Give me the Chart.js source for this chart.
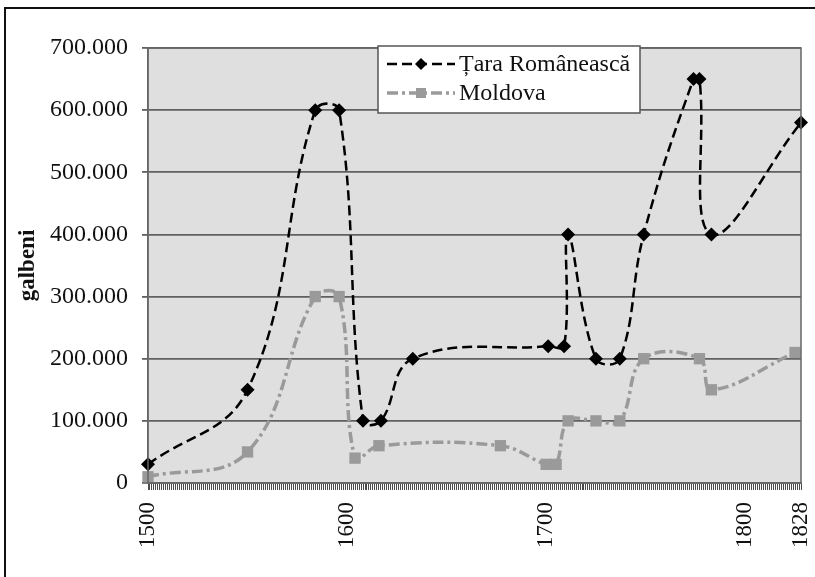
<!DOCTYPE html>
<html lang="ro">
<head>
    <meta charset="UTF-8">
    <title>Tribut Țara Românească și Moldova</title>
    <script src="https://cdn.jsdelivr.net/npm/chart.js@4.4.0/dist/chart.umd.min.js"></script>
    <style>
        body { margin: 0; background: #fff; }
        #wrap { width: 815px; height: 577px; }
    </style>
</head>
<body>
<div id="wrap"><canvas id="myChart" width="815" height="577"></canvas></div>

<script>
    // Țara Românească
    var trYears  = [1500, 1550, 1584, 1596, 1608, 1617, 1633, 1701, 1709, 1711, 1725, 1737, 1749, 1774, 1777, 1783, 1828];
    var trValues = [30000, 150000, 600000, 600000, 100000, 100000, 200000, 220000, 220000, 400000, 200000, 200000, 400000, 650000, 650000, 400000, 580000];

    // Moldova
    var mdYears  = [1500, 1550, 1584, 1596, 1604, 1616, 1677, 1700, 1705, 1711, 1725, 1737, 1749, 1777, 1783, 1825];
    var mdValues = [10000, 50000, 300000, 300000, 40000, 60000, 60000, 30000, 30000, 100000, 100000, 100000, 200000, 200000, 150000, 210000];

    var xLabels = [1500, 1600, 1700, 1800, 1828];
    var yTicks = [0, 100000, 200000, 300000, 400000, 500000, 600000, 700000];

    var serif = '"Liberation Serif", "Times New Roman", serif';
    var trColor = '#000000';
    var mdColor = '#9a9a9a';
    var trDash = [10, 5];
    var mdDash = [11, 4, 3, 4];

    function toPoints(xs, ys) {
      return xs.map(function (x, i) { return { x: x, y: ys[i] }; });
    }

    // every year gets a small tick mark under the axis
    var yearTicks = [];
    for (var y = 1500; y <= 1828; y++) yearTicks.push(y);

    function fmt(v) {
      if (v === 0) return '0';
      return (v / 1000).toFixed(0) + '.000';
    }

    // grey plot background, frame round the plot and round the figure
    var framePlugin = {
      id: 'frame',
      beforeDraw: function (chart) {
        var a = chart.chartArea, ctx = chart.ctx;
        ctx.save();
        ctx.fillStyle = '#dfdfdf';
        ctx.fillRect(a.left, a.top, a.right - a.left, a.bottom - a.top);
        ctx.restore();
      },
      afterDraw: function (chart) {
        var a = chart.chartArea, ctx = chart.ctx;
        ctx.save();
        ctx.strokeStyle = '#666';
        ctx.lineWidth = 1.5;
        ctx.strokeRect(a.left, a.top, a.right - a.left, a.bottom - a.top);
        ctx.strokeStyle = '#111';
        ctx.lineWidth = 2;
        ctx.strokeRect(5, 8, 900, 700);
        ctx.restore();
      }
    };

    // legend box sitting inside the plot, like the original
    var legendPlugin = {
      id: 'boxLegend',
      afterDraw: function (chart) {
        var ctx = chart.ctx;
        var bx = 378, by = 46, bw = 262, bh = 67;
        ctx.save();
        ctx.fillStyle = '#fff';
        ctx.fillRect(bx, by, bw, bh);
        ctx.strokeStyle = '#555';
        ctx.lineWidth = 1.5;
        ctx.strokeRect(bx, by, bw, bh);

        var rows = [
          { label: chart.data.datasets[0].label, color: trColor, dash: trDash, width: 2.5, marker: 'diamond', y: 64 },
          { label: chart.data.datasets[1].label, color: mdColor, dash: mdDash, width: 3.5, marker: 'square', y: 93 }
        ];
        rows.forEach(function (r) {
          ctx.strokeStyle = r.color;
          ctx.lineWidth = r.width;
          ctx.setLineDash(r.dash);
          ctx.beginPath();
          ctx.moveTo(387, r.y);
          ctx.lineTo(455, r.y);
          ctx.stroke();
          ctx.setLineDash([]);
          ctx.fillStyle = r.color;
          ctx.beginPath();
          if (r.marker === 'diamond') {
            ctx.moveTo(421, r.y - 6);
            ctx.lineTo(427, r.y);
            ctx.lineTo(421, r.y + 6);
            ctx.lineTo(415, r.y);
            ctx.closePath();
          } else {
            ctx.rect(416, r.y - 5, 10, 10);
          }
          ctx.fill();
          ctx.fillStyle = '#111';
          ctx.font = '24px ' + serif;
          ctx.textBaseline = 'middle';
          ctx.textAlign = 'left';
          ctx.fillText(r.label, 459, r.y + 1);
        });
        ctx.restore();
      }
    };

    var ctx = document.getElementById('myChart').getContext('2d');

    var myChart = new Chart(ctx, {
      type: 'line',
      data: {
        datasets: [{
          label: 'Țara Românească',
          data: toPoints(trYears, trValues),
          borderColor: trColor,
          backgroundColor: trColor,
          borderWidth: 2.5,
          borderDash: trDash,
          pointStyle: 'rectRot',
          pointRadius: 7,
          pointBorderWidth: 0,
          tension: 0.4,
          clip: false
        }, {
          label: 'Moldova',
          data: toPoints(mdYears, mdValues),
          borderColor: mdColor,
          backgroundColor: mdColor,
          borderWidth: 3.5,
          borderDash: mdDash,
          pointStyle: 'rect',
          pointRadius: 8,
          pointBorderWidth: 0,
          tension: 0.4,
          clip: false
        }]
      },
      options: {
        responsive: false,
        animation: false,
        events: [],
        layout: { padding: { top: 48, right: 14, left: 0, bottom: 0 } },
        plugins: {
          legend: { display: false },
          tooltip: { enabled: false }
        },
        scales: {
          x: {
            type: 'linear',
            min: 1500,
            max: 1828,
            afterBuildTicks: function (s) {
              s.ticks = yearTicks.map(function (v) { return { value: v }; });
            },
            afterFit: function (s) {
              s.height = 94;
              s.paddingLeft = 0;
              s.paddingRight = 0;
            },
            ticks: {
              autoSkip: false,
              minRotation: 90,
              maxRotation: 90,
              padding: 12,
              color: '#111',
              font: { family: serif, size: 23 },
              callback: function (v) {
                return xLabels.indexOf(v) >= 0 ? String(v) : '';
              }
            },
            grid: {
              drawOnChartArea: false,
              drawTicks: true,
              tickLength: 7,
              color: '#4a4a4a',
              lineWidth: 1
            },
            border: { color: '#666', width: 1.5 }
          },
          y: {
            min: 0,
            max: 700000,
            afterBuildTicks: function (s) {
              s.ticks = yTicks.map(function (v) { return { value: v }; });
            },
            afterFit: function (s) {
              s.width = 148;
              s.paddingTop = 0;
              s.paddingBottom = 0;
            },
            title: {
              display: true,
              text: 'galbeni',
              color: '#111',
              font: { family: serif, size: 23, weight: 'bold' },
              padding: { top: 14, bottom: 0 }
            },
            ticks: {
              padding: 14,
              color: '#111',
              font: { family: serif, size: 24 },
              callback: fmt
            },
            grid: {
              color: '#606060',
              lineWidth: 1.8,
              tickLength: 6
            },
            border: { color: '#666', width: 1.5 }
          }
        }
      },
      plugins: [framePlugin, legendPlugin]
    });
</script>
</body>
</html>
